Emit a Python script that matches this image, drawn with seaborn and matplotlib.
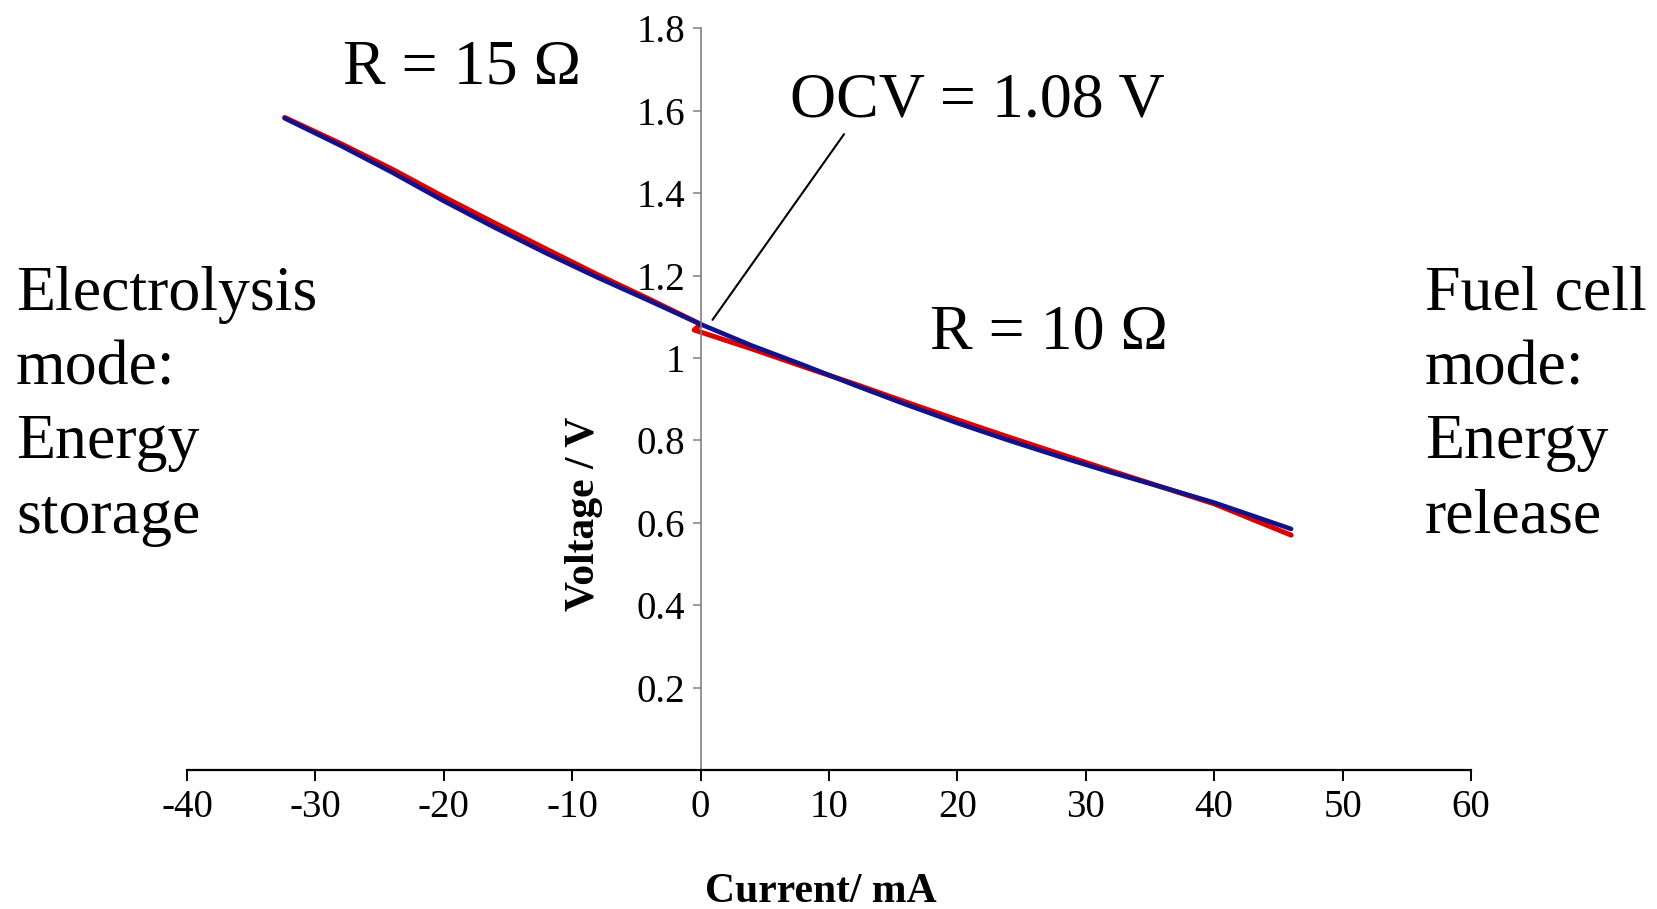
import numpy as np
import pandas as pd
import matplotlib
matplotlib.use("Agg")
import matplotlib.pyplot as plt
import seaborn as sns
from matplotlib.ticker import FuncFormatter

# ---- data ----
blue_current = [-32.4, -28, -24, -20, -16, -12, -8, -4, 0, 4, 8, 12, 16, 20, 24, 28, 32, 36, 40, 46]
blue_voltage = [1.582, 1.515, 1.450, 1.381, 1.316, 1.254, 1.195, 1.139, 1.082, 1.030, 0.983,
                0.934, 0.887, 0.842, 0.800, 0.760, 0.722, 0.686, 0.649, 0.585]

red_current = [-32.4, -28, -24, -20, -16, -12, -8, -4, 0, -0.5, 4, 8, 12, 16, 20, 24, 28, 32, 36, 40, 46]
red_voltage = [1.584, 1.520, 1.458, 1.391, 1.327, 1.264, 1.202, 1.143, 1.082, 1.068, 1.022, 0.979,
               0.937, 0.893, 0.850, 0.808, 0.767, 0.726, 0.686, 0.646, 0.570]

x_ticks = [-40, -30, -20, -10, 0, 10, 20, 30, 40, 50, 60]
y_ticks = [0.2, 0.4, 0.6, 0.8, 1.0, 1.2, 1.4, 1.6, 1.8]

red_df = pd.DataFrame({"Current": red_current, "Voltage": red_voltage})
blue_df = pd.DataFrame({"Current": blue_current, "Voltage": blue_voltage})

sns.set_style("white")
plt.rcParams["font.family"] = ["Liberation Serif", "DejaVu Serif"]
plt.rcParams["axes.unicode_minus"] = False
plt.rcParams["text.color"] = "black"
plt.rcParams["axes.labelcolor"] = "black"
plt.rcParams["xtick.color"] = "black"
plt.rcParams["ytick.color"] = "black"

fig = plt.figure(figsize=(16.57, 9.09), dpi=100)
ax = fig.add_axes([0.1129, 0.153, 0.7748, 0.8157])

sns.lineplot(data=red_df, x="Current", y="Voltage", ax=ax, color="#dd0000",
             linewidth=3.6, sort=False, estimator=None)
sns.lineplot(data=blue_df, x="Current", y="Voltage", ax=ax, color="#12128a",
             linewidth=3.3, sort=False, estimator=None)

ax.set_xlim(-40, 60)
ax.set_ylim(0, 1.8)
ax.set_xticks(x_ticks)
ax.set_yticks(y_ticks)
ax.yaxis.set_major_formatter(FuncFormatter(lambda v, p: f"{v:g}"))

ax.spines["top"].set_visible(False)
ax.spines["right"].set_visible(False)
ax.spines["left"].set_position(("data", 0))
ax.spines["left"].set_color("#808080")
ax.spines["left"].set_linewidth(1.2)
ax.spines["bottom"].set_color("black")
ax.spines["bottom"].set_linewidth(1.6)

ax.tick_params(axis="x", direction="out", length=8, width=1.4, color="black",
               labelcolor="black", labelsize=28, pad=6, bottom=True)
ax.tick_params(axis="y", direction="out", length=6, width=1.1, color="#808080",
               labelcolor="black", labelsize=28, pad=5, left=True)

ax.set_xlabel("Current/ mA", fontsize=30, fontweight="bold", va="center", ha="center",
              color="black")
ax.xaxis.set_label_coords(0.494, -0.165)
ax.set_ylabel("Voltage / V", fontsize=30, fontweight="bold", va="center", ha="center",
              color="black")
ax.yaxis.set_label_coords(0.309, 0.345)

# annotation for OCV
ax.annotate("", xy=(0.8, 1.087), xytext=(11.3, 1.549),
            arrowprops=dict(arrowstyle="-", color="black", lw=1.5))

big = 46
fig.text(0.207, 0.925, "R = 15 Ω", fontsize=big, va="center", ha="left")
fig.text(0.477, 0.888, "OCV = 1.08 V", fontsize=big, va="center", ha="left")
fig.text(0.561, 0.633, "R = 10 Ω", fontsize=big, va="center", ha="left")
fig.text(0.0097, 0.553, "Electrolysis\nmode:\nEnergy\nstorage", fontsize=big,
         va="center", ha="left", linespacing=1.37)
fig.text(0.860, 0.553, "Fuel cell\nmode:\nEnergy\nrelease", fontsize=big,
         va="center", ha="left", linespacing=1.37)

fig.savefig("out.png", dpi=100, facecolor="white")
